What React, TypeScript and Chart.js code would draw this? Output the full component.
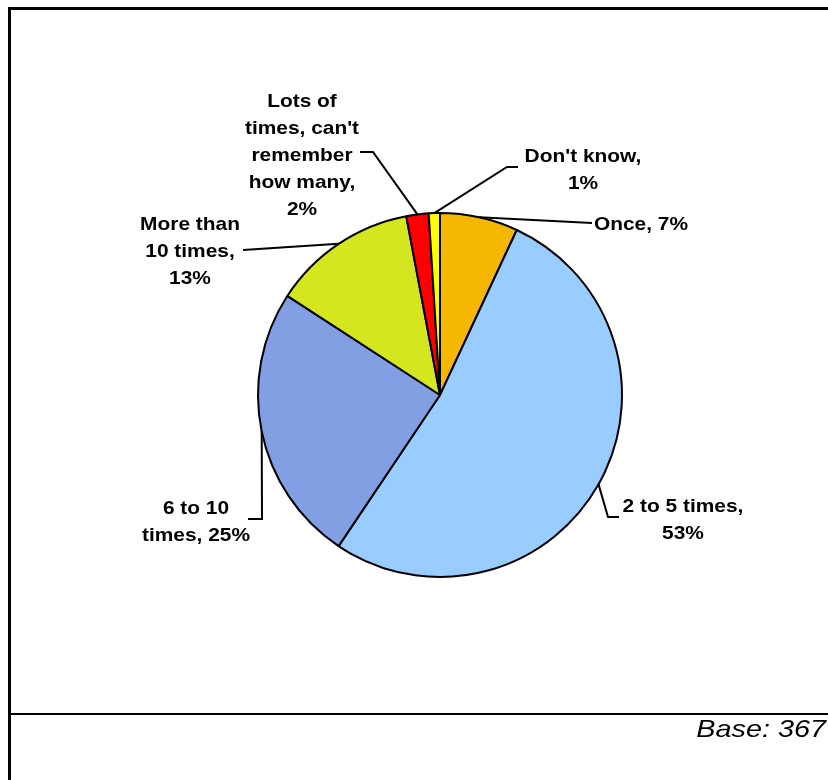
import React, { useEffect, useRef } from "react";
import { Chart, registerables } from "chart.js";

Chart.register(...registerables);

// ---- data ----
const CATEGORIES = [
  "Once",
  "2 to 5 times",
  "6 to 10\ntimes",
  "More than\n10 times",
  "Lots of\ntimes, can't\nremember\nhow many",
  "Don't know",
];
const VALUES = [7, 53, 25, 13, 2, 1];
const SEPARATORS = [", ", ",\n", ", ", ",\n", ",\n", ",\n"];
const COLORS = ["#F5B700", "#99CCFF", "#829FE4", "#D4E620", "#FF0000", "#FFFF00"];
const BASE_TEXT = "Base: 367";

// label layout, offsets relative to pie centre (px)
const LABEL_TEXT_POS = [
  [201, -170],
  [243, 112],
  [-244, 114],
  [-250, -170],
  [-138, -293],
  [143, -238],
];
const LEADER_POINTS: number[][][] = [
  [[152, -172]],
  [[168, 122], [179, 122]],
  [[-178, 124], [-192, 124]],
  [[-197, -145]],
  [[-67, -243], [-80, -243]],
  [[67, -228], [78, -228]],
];

const FONT_FAMILY = '"Liberation Sans", Arial, sans-serif';

const labelPlugin = {
  id: "pieLabels",
  afterDraw(chart: any) {
    const ctx = chart.ctx as CanvasRenderingContext2D;
    const meta = chart.getDatasetMeta(0);
    ctx.save();
    // frame
    ctx.fillStyle = "#000";
    ctx.fillRect(8, 7, 830, 3);
    ctx.fillRect(8, 7, 3, 780);
    ctx.fillRect(8, 713, 830, 2);

    meta.data.forEach((arc: any, i: number) => {
      const { x, y, startAngle, endAngle, outerRadius } = arc.getProps(
        ["x", "y", "startAngle", "endAngle", "outerRadius"],
        true
      );
      const mid = (startAngle + endAngle) / 2;
      const ax = x + Math.cos(mid) * outerRadius;
      const ay = y + Math.sin(mid) * outerRadius;
      // leader
      ctx.strokeStyle = "#000";
      ctx.lineWidth = 2;
      ctx.beginPath();
      ctx.moveTo(ax, ay);
      LEADER_POINTS[i].forEach(([dx, dy]) => ctx.lineTo(x + dx, y + dy));
      ctx.stroke();
      // text
      const text = CATEGORIES[i] + SEPARATORS[i] + VALUES[i] + "%";
      const lines = text.split("\n");
      const [tx, ty] = LABEL_TEXT_POS[i];
      ctx.font = "bold 19px " + FONT_FAMILY;
      ctx.fillStyle = "#000";
      ctx.textAlign = "center";
      ctx.textBaseline = "middle";
      lines.forEach((ln, k) => {
        ctx.save();
        ctx.translate(x + tx, y + ty + k * 27);
        ctx.scale(1.1, 1);
        ctx.fillText(ln, 0, 0);
        ctx.restore();
      });
    });

    // base text
    ctx.font = "italic 24px " + FONT_FAMILY;
    ctx.textAlign = "right";
    ctx.textBaseline = "alphabetic";
    ctx.save();
    ctx.translate(826, 737);
    ctx.scale(1.2, 1);
    ctx.fillText(BASE_TEXT, 0, 0);
    ctx.restore();
    ctx.restore();
  },
};

export default function App() {
  const ref = useRef<HTMLCanvasElement>(null);
  useEffect(() => {
    if (!ref.current) return;
    const chart = new Chart(ref.current, {
      type: "pie",
      data: {
        labels: CATEGORIES.map((c) => c.replace(/\n/g, " ")),
        datasets: [
          {
            data: VALUES,
            backgroundColor: COLORS,
            borderColor: "#000",
            borderWidth: 2,
          },
        ],
      },
      options: {
        responsive: false,
        animation: false,
        layout: { padding: { left: 257, right: 205, top: 212, bottom: 202 } },
        plugins: {
          legend: { display: false },
          tooltip: { enabled: false },
        },
      },
      plugins: [labelPlugin],
    });
    return () => chart.destroy();
  }, []);
  return (
    <div style={{ position: "absolute", left: 0, top: 0, width: 828, height: 780, background: "#fff" }}>
      <canvas ref={ref} width={828} height={780} style={{ display: "block" }} />
    </div>
  );
}
